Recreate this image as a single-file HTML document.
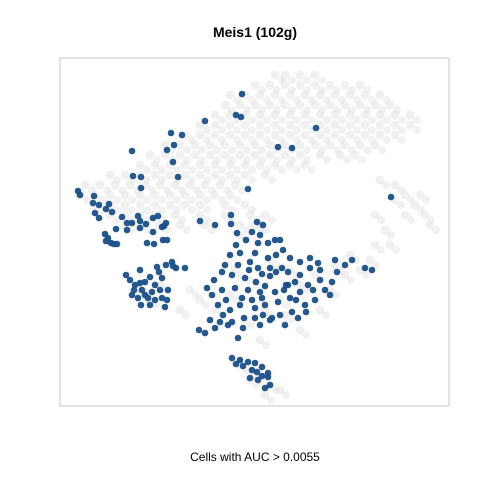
<!DOCTYPE html>
<html><head><meta charset="utf-8"><style>
body{margin:0;background:#fff;width:480px;height:480px;overflow:hidden;font-family:"Liberation Sans",sans-serif}
</style></head><body>
<svg id="chart" width="480" height="480" xmlns="http://www.w3.org/2000/svg">
<rect width="480" height="480" fill="#fff"/>
<text x="255" y="37" text-anchor="middle" font-size="14" font-weight="bold" font-family="Liberation Sans, sans-serif">Meis1 (102g)</text>
<rect x="60" y="58" width="389" height="348" fill="none" stroke="#c8c8c8" stroke-width="1"/>
<g id="gray"></g>
<g id="blue"></g>
<text x="255" y="461" text-anchor="middle" font-size="12" font-family="Liberation Sans, sans-serif">Cells with AUC &gt; 0.0055</text>
</svg>
<script>
const grayRows = [
 [75,[275,285,300,315]],
 [85,[255,270,285,300,315,330,345,360]],
 [95,[230,245,260,275,290,305,320,335,350,365,380]],
 [105,[225,240,255,270,285,300,315,330,345,360,375,390]],
 [115,[215,230,245,260,275,290,305,320,335,350,365,380,395,410]],
 [125,[200,215,230,245,260,275,290,305,320,335,350,365,380,395,410]],
 [135,[185,200,215,230,245,260,275,290,305,320,335,350,365,380,395]],
 [145,[165,180,195,210,225,240,255,270,285,300,315,330,345,360,375]],
 [155,[150,165,180,195,210,225,240,255,270,285,300,320,340,355]],
 [165,[140,155,170,185,200,215,230,245,260,275,290,305]],
 [175,[110,125,140,155,170,185,200,215,230,245,265]],
 [185,[85,100,115,130,145,160,175,190,205,220,235]],
 [195,[80,95,110,125,140,155,170,185,200,215,230]],
 [205,[95,110,125,140,155,170,185,200,225,245]],
 [215,[110,125,140,155,175,200,225,250,265]],
 [225,[125,140,160,180,205,240,255]]
];
const grayExtra = [[380,180],[395,185],[405,195],[415,205],[425,215],[430,225],[395,200],[375,215],[385,230],[375,245],[370,260],[360,270],[345,275],[390,245],[405,215],[420,195],
 [200,300],[190,290],[180,310],[260,340],[300,330],[320,310],[330,290],[260,225],[240,235],[270,260],[290,270],[335,265],[350,255],
 [250,280],[280,300],[230,295],[300,285],[215,310],[265,310],[245,320],[285,315],[315,275],[160,285],[140,290],[150,300],[235,270],
 [240,365],[255,375],[270,385],[280,390],[265,395],[250,380]];
const bluePts = [[242,94],[236,115],[241,117],[205,121],[316,128],[171,133],[182,135],[278,147],[292,148],[167,150],[174,145],[132,151],[173,162],[178,177],[133,176],[141,177],[141,188],[78,191],[80,195],[94,196],[93,203],[95,213],[99,205],[109,204],[106,209],[112,212],[99,218],[122,217],[132,223],[140,221],[138,216],[127,223],[146,224],[140,228],[116,229],[105,234],[108,238],[114,244],[106,241],[111,243],[117,244],[127,230],[153,218],[158,216],[164,226],[162,227],[166,223],[153,232],[163,240],[167,240],[154,244],[147,243],[200,221],[248,189],[391,197],[215,225],[231,215],[257,222],[263,225],
 [231,224],[237,233],[246,240],[258,243],[268,243],[275,240],[268,258],[255,253],[240,253],[230,255],[225,265],[238,265],[250,262],[258,268],[270,268],[262,274],[276,255],[283,250],[290,258],[282,268],[270,276],[256,282],[245,278],[232,275],[222,272],[214,280],[207,288],[212,295],[222,290],[235,288],[248,290],[260,292],[275,292],[288,285],[295,282],[300,275],[310,268],[318,263],[320,270],[308,285],[300,292],[290,298],[278,302],[265,305],[255,308],[240,305],[230,310],[223,315],[210,320],[199,330],[205,333],[215,328],[220,322],[232,322],[244,318],[255,318],[263,315],[272,318],[280,315],[292,312],[305,305],[315,300],[325,290],[332,282],[337,272],[345,265],[352,260],[365,268],[372,270],[335,260],[298,318],[285,325],[270,320],[243,328],[238,338],[228,325],[260,325],[276,272],[265,286],[300,262],[288,272],[242,298],[226,300],[252,300],[313,290],[284,290],[249,270],[236,245],[252,232],[260,235],[286,285],[218,305],[280,240],[296,300],[306,312],[320,280],[330,295],[310,258],[262,298],
 [126,275],[130,280],[135,285],[140,283],[145,282],[150,277],[155,285],[160,290],[152,292],[145,295],[138,298],[132,295],[134,290],[142,290],[148,298],[155,300],[162,298],[168,290],[167,300],[141,305],[150,305],[159,272],[166,265],[172,262],[176,268],[162,278],[157,267],[185,268],[173,266],[140,270],[165,307],
 [232,358],[240,360],[236,364],[243,366],[248,362],[252,370],[257,372],[262,367],[268,373],[250,378],[262,376],[270,385],[265,388],[268,377],[255,363],[258,380]];
const xDomain=[60,449], yDomain=[58,406];
function sx(v){return 60+(v-xDomain[0])/(xDomain[1]-xDomain[0])*389;}
function sy(v){return 58+(v-yDomain[0])/(yDomain[1]-yDomain[0])*348;}
const NS="http://www.w3.org/2000/svg";
const gG=document.getElementById('gray'), bG=document.getElementById('blue');
function dot(g,x,y,r,fill,op,name){
 const c=document.createElementNS(NS,'circle');
 c.setAttribute('cx',sx(x));c.setAttribute('cy',sy(y));c.setAttribute('r',r);
 c.setAttribute('fill',fill);c.setAttribute('fill-opacity',op);
 
 
 g.appendChild(c);
}
grayRows.forEach(([y,xs])=>xs.forEach((x)=>{dot(gG,x,y,4.5,'#e4e4e4',0.55,'cell-point');dot(gG,x+7,y+5,4,'#e4e4e4',0.5,'cell-point');}));
grayExtra.forEach(([x,y])=>{dot(gG,x,y,4.5,'#e4e4e4',0.55,'cell-point');dot(gG,x+6,y+5,4,'#e4e4e4',0.5,'cell-point');});
bluePts.forEach(([x,y])=>dot(bG,x,y,3.3,'#1a4f8a',0.95,'active-cell-point'));
</script>
</body></html>
